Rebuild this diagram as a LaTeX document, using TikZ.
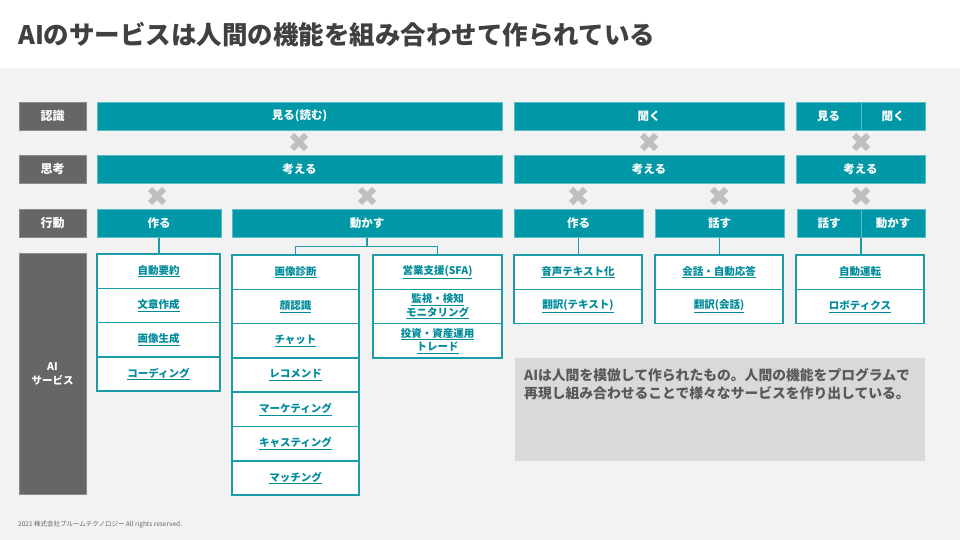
\documentclass[tikz,border=0pt]{standalone}
\usepackage{fontspec}
\setmainfont{Noto Sans CJK JP}
\usetikzlibrary{positioning}

\tikzset{
  rowlabel/.style={fill=labelColor, draw=labelEdge, line width=0.5pt, text=white,
    font=\fontsize{12}{14}\selectfont\bfseries, inner sep=0pt, outer sep=0pt,
    minimum width=67pt, minimum height=28.5pt, anchor=north west},
  func/.style={fill=tealColor, draw=tealEdge, line width=0.6pt, text=white,
    font=\fontsize{11.5}{14}\selectfont\bfseries, inner sep=0pt, outer sep=0pt,
    minimum width=#1, minimum height=28.5pt, anchor=north west},
  service/.style={fill=white, draw=lineColor, line width=1.5pt, text=linkColor,
    font=\fontsize{10.5}{13.5}\selectfont\bfseries, align=center, inner sep=0pt,
    outer sep=0pt, minimum width=#1, minimum height=34.3pt},
  link/.style={draw=lineColor, line width=1.5pt},
  crossbar/.style={draw=crossColor, line width=6pt},
}

\begin{document}
\begin{tikzpicture}[x=1pt,y=-1pt]
\definecolor{pageColor}{RGB}{242,242,242}
\definecolor{titleColor}{RGB}{64,64,64}
\definecolor{labelColor}{RGB}{102,102,102}
\definecolor{labelEdge}{RGB}{140,140,140}
\definecolor{tealColor}{RGB}{0,151,167}
\definecolor{tealEdge}{RGB}{90,188,198}
\definecolor{lineColor}{RGB}{26,157,168}
\definecolor{linkColor}{RGB}{0,140,156}
\definecolor{crossColor}{RGB}{191,191,191}
\definecolor{noteColor}{RGB}{217,217,217}
\definecolor{noteText}{RGB}{89,89,89}
\definecolor{footColor}{RGB}{100,100,100}
\path[use as bounding box,fill=pageColor] (0,0) rectangle (960,540);
\path[fill=white] (0,0) rectangle (960,68);

% title
\node[anchor=west, inner sep=0pt, text=titleColor, font=\fontsize{25.5}{30}\selectfont\bfseries] (title) at (18,35) {AIのサービスは人間の機能を組み合わせて作られている};

% row labels
\node[rowlabel] (recog) at (19,102) {認識};
\node[rowlabel] (thought) at (19,155) {思考};
\node[rowlabel] (action) at (19,209) {行動};
\node[rowlabel, minimum height=241pt, align=center, font=\fontsize{10.5}{14}\selectfont\bfseries] (aisvc) at (19,253) {AI\\サービス};

% recognition row
\node[func=405pt] (see1) at (97,102) {見る(読む)};
\node[func=270pt] (hear1) at (514,102) {聞く};
\node[func=65pt] (see2) at (796,102) {見る};
\node[func=64pt] (hear2) at (861,102) {聞く};

% thinking row
\node[func=405pt] (think1) at (97,155) {考える};
\node[func=270pt] (think2) at (514,155) {考える};
\node[func=129pt] (think3) at (796,155) {考える};

% action row
\node[func=124pt] (make1) at (97,209) {作る};
\node[func=270pt] (move1) at (232,209) {動かす};
\node[func=129pt] (make2) at (514,209) {作る};
\node[func=129pt] (talk1) at (655,209) {話す};
\node[func=64pt] (talk2) at (797,209) {話す};
\node[func=64pt] (move2) at (861,209) {動かす};

% crosses
\draw[crossbar] (292,135) -- ++(14,14) (292,149) -- ++(14,-14);
\draw[crossbar] (642,135) -- ++(14,14) (642,149) -- ++(14,-14);
\draw[crossbar] (854,135) -- ++(14,14) (854,149) -- ++(14,-14);
\draw[crossbar] (150,189) -- ++(14,14) (150,203) -- ++(14,-14);
\draw[crossbar] (360,189) -- ++(14,14) (360,203) -- ++(14,-14);
\draw[crossbar] (571,189) -- ++(14,14) (571,203) -- ++(14,-14);
\draw[crossbar] (712,189) -- ++(14,14) (712,203) -- ++(14,-14);
\draw[crossbar] (854,189) -- ++(14,14) (854,203) -- ++(14,-14);

% services of make1
\node[service=123pt, anchor=north west] (summary) at (97,254) {\underline{自動要約}};
\node[service=123pt, below=0pt of summary] (writing) {\underline{文章作成}};
\node[service=123pt, below=0pt of writing] (imagegen) {\underline{画像生成}};
\node[service=123pt, below=0pt of imagegen] (coding) {\underline{コーディング}};

% services of move1
\node[service=127pt, anchor=north west] (diagnosis) at (232,255) {\underline{画像診断}};
\node[service=127pt, below=0pt of diagnosis] (face) {\underline{顔認識}};
\node[service=127pt, below=0pt of face] (chat) {\underline{チャット}};
\node[service=127pt, below=0pt of chat] (recommend) {\underline{レコメンド}};
\node[service=127pt, below=0pt of recommend] (marketing) {\underline{マーケティング}};
\node[service=127pt, below=0pt of marketing] (casting) {\underline{キャスティング}};
\node[service=127pt, below=0pt of casting] (matching) {\underline{マッチング}};
\node[service=129pt, anchor=north west] (sales) at (373,255) {\underline{営業支援(SFA)}};
\node[service=129pt, below=0pt of sales] (monitor) {\underline{監視・検知}\\\underline{モニタリング}};
\node[service=129pt, below=0pt of monitor] (trade) {\underline{投資・資産運用}\\\underline{トレード}};

% services of make2, talk1, talk2
\node[service=128pt, anchor=north west] (speech) at (514,255) {\underline{音声テキスト化}};
\node[service=128pt, below=0pt of speech] (transtext) {\underline{翻訳(テキスト)}};
\node[service=128pt, anchor=north west] (dialog) at (655,255) {\underline{会話・自動応答}};
\node[service=128pt, below=0pt of dialog] (transtalk) {\underline{翻訳(会話)}};
\node[service=128pt, anchor=north west] (autodrive) at (796,255) {\underline{自動運転}};
\node[service=128pt, below=0pt of autodrive] (robotics) {\underline{ロボティクス}};

% connectors
\draw[link] (make1.south) -- (make1.south |- summary.north);
\draw[link] (move1.south) -- ++(0,9) coordinate (fork) -| (diagnosis.north);
\draw[link] (fork) -| (sales.north);
\draw[link] (make2.south) -- (make2.south |- speech.north);
\draw[link] (talk1.south) -- (talk1.south |- dialog.north);
\draw[link] (talk2.south east) -- (talk2.south east |- autodrive.north);

% note
\node[fill=noteColor, inner sep=0pt, outer sep=0pt, minimum width=410pt, minimum height=103pt, anchor=north west] (note) at (515,358) {};
\node[anchor=north west, inner sep=0pt, align=left, text=noteText, font=\fontsize{13.8}{18}\selectfont\bfseries] (notetext) at (524,368) {AIは人間を模倣して作られたもの。人間の機能をプログラムで\\再現し組み合わせることで様々なサービスを作り出している。};

% footer
\node[anchor=west, inner sep=0pt, text=footColor, font=\fontsize{6.5}{7.5}\selectfont] (footer) at (18,525) {2021 株式会社ブルームテクノロジー All rights reserved.};
\end{tikzpicture}
\end{document}
